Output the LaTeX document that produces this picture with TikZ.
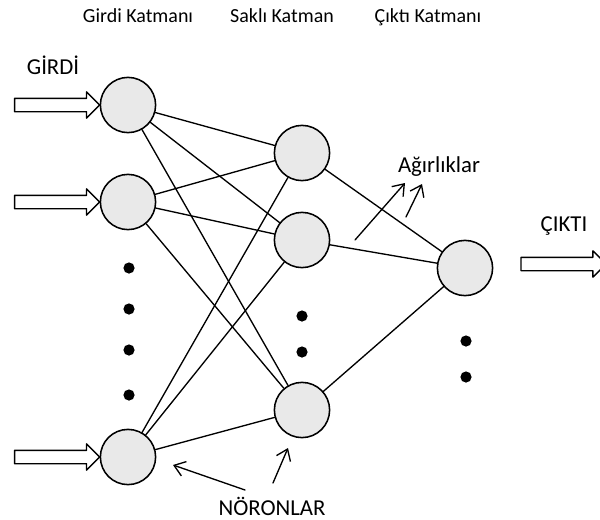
\documentclass[tikz,border=0pt]{standalone}
\usepackage{fontspec}
\setmainfont{Carlito}
\usepackage{tikz}
\usetikzlibrary{arrows.meta}
\usetikzlibrary{shapes.arrows}
\tikzset{neuron/.style={circle,draw,line width=1.1pt,fill=gray!17,minimum size=1.38cm,inner sep=0pt},
  bigarrow/.style={single arrow,draw,line width=1pt,fill=white,minimum height=2.125cm,inner xsep=0pt,inner ysep=0.15cm,single arrow head extend=0.16cm,outer sep=0pt},
  layertitle/.style={font=\fontsize{14.2}{16}\selectfont,anchor=base},
  tag/.style={font=\fontsize{16.2}{18}\selectfont,anchor=base}}
\begin{document}
\begin{tikzpicture}[line cap=round,line join=round,>={Straight Barb[length=2.6mm,width=3.8mm]},x=0.025cm,y=-0.025cm]
\clip(0,0) rectangle (600,520);
\node [neuron] (in1) at (128,105) {};
\node [neuron] (in2) at (128,202) {};
\node [neuron] (in3) at (128,457) {};
\node [neuron] (h1) at (302,153) {};
\node [neuron] (h2) at (302,240) {};
\node [neuron] (h3) at (302,410) {};
\node [neuron] (out) at (465,268) {};
\draw [line width=0.95pt] (in1)-- (h1);
\draw [line width=0.95pt] (in1)-- (h2);
\draw [line width=0.95pt] (in1)-- (h3);
\draw [line width=0.95pt] (in2)-- (h1);
\draw [line width=0.95pt] (in2)-- (h2);
\draw [line width=0.95pt] (in2)-- (h3);
\draw [line width=0.95pt] (in3)-- (h1);
\draw [line width=0.95pt] (in3)-- (h2);
\draw [line width=0.95pt] (in3)-- (h3);
\draw [line width=0.95pt] (h1)-- (out);
\draw [line width=0.95pt] (h2)-- (out);
\draw [line width=0.95pt] (h3)-- (out);
\fill (129,268) circle (1.4mm);
\fill (129,309) circle (1.4mm);
\fill (129,350) circle (1.4mm);
\fill (129,395) circle (1.4mm);
\fill (302,316) circle (1.4mm);
\fill (302,352) circle (1.4mm);
\fill (466,341) circle (1.4mm);
\fill (466,377) circle (1.4mm);
\node [bigarrow,anchor=tip] (a1) at (in1.west) {};
\node [bigarrow,anchor=tip] (a2) at (in2.west) {};
\node [bigarrow,anchor=tip] (a3) at (in3.west) {};
\node [bigarrow,anchor=tail] (a4) at (521,264) {};
\node [layertitle] (t1) at (138,22) {Girdi Katmanı};
\node [layertitle] (t2) at (282,22) {Saklı Katman};
\node [layertitle] (t3) at (428,22) {Çıktı Katmanı};
\node [tag] (girdi) at (53,74) {GİRDİ};
\node [tag] (cikti) at (564,231) {ÇIKTI};
\node [tag] (agirlik) at (439,172) {Ağırlıklar};
\node [tag] (noron) at (272,515) {NÖRONLAR};
\coordinate (w1) at (355,240);
\coordinate (w1t) at (405,183);
\coordinate (w2) at (406,217);
\coordinate (w2t) at (422,184);
\coordinate (n1) at (245,490);
\coordinate (n1t) at (173,465);
\coordinate (n2) at (273,483);
\coordinate (n2t) at (288,448);
\draw [line width=0.95pt,->] (w1)-- (w1t);
\draw [line width=0.95pt,->] (w2)-- (w2t);
\draw [line width=0.95pt,->] (n1)-- (n1t);
\draw [line width=0.95pt,->] (n2)-- (n2t);
\end{tikzpicture}
\end{document}
